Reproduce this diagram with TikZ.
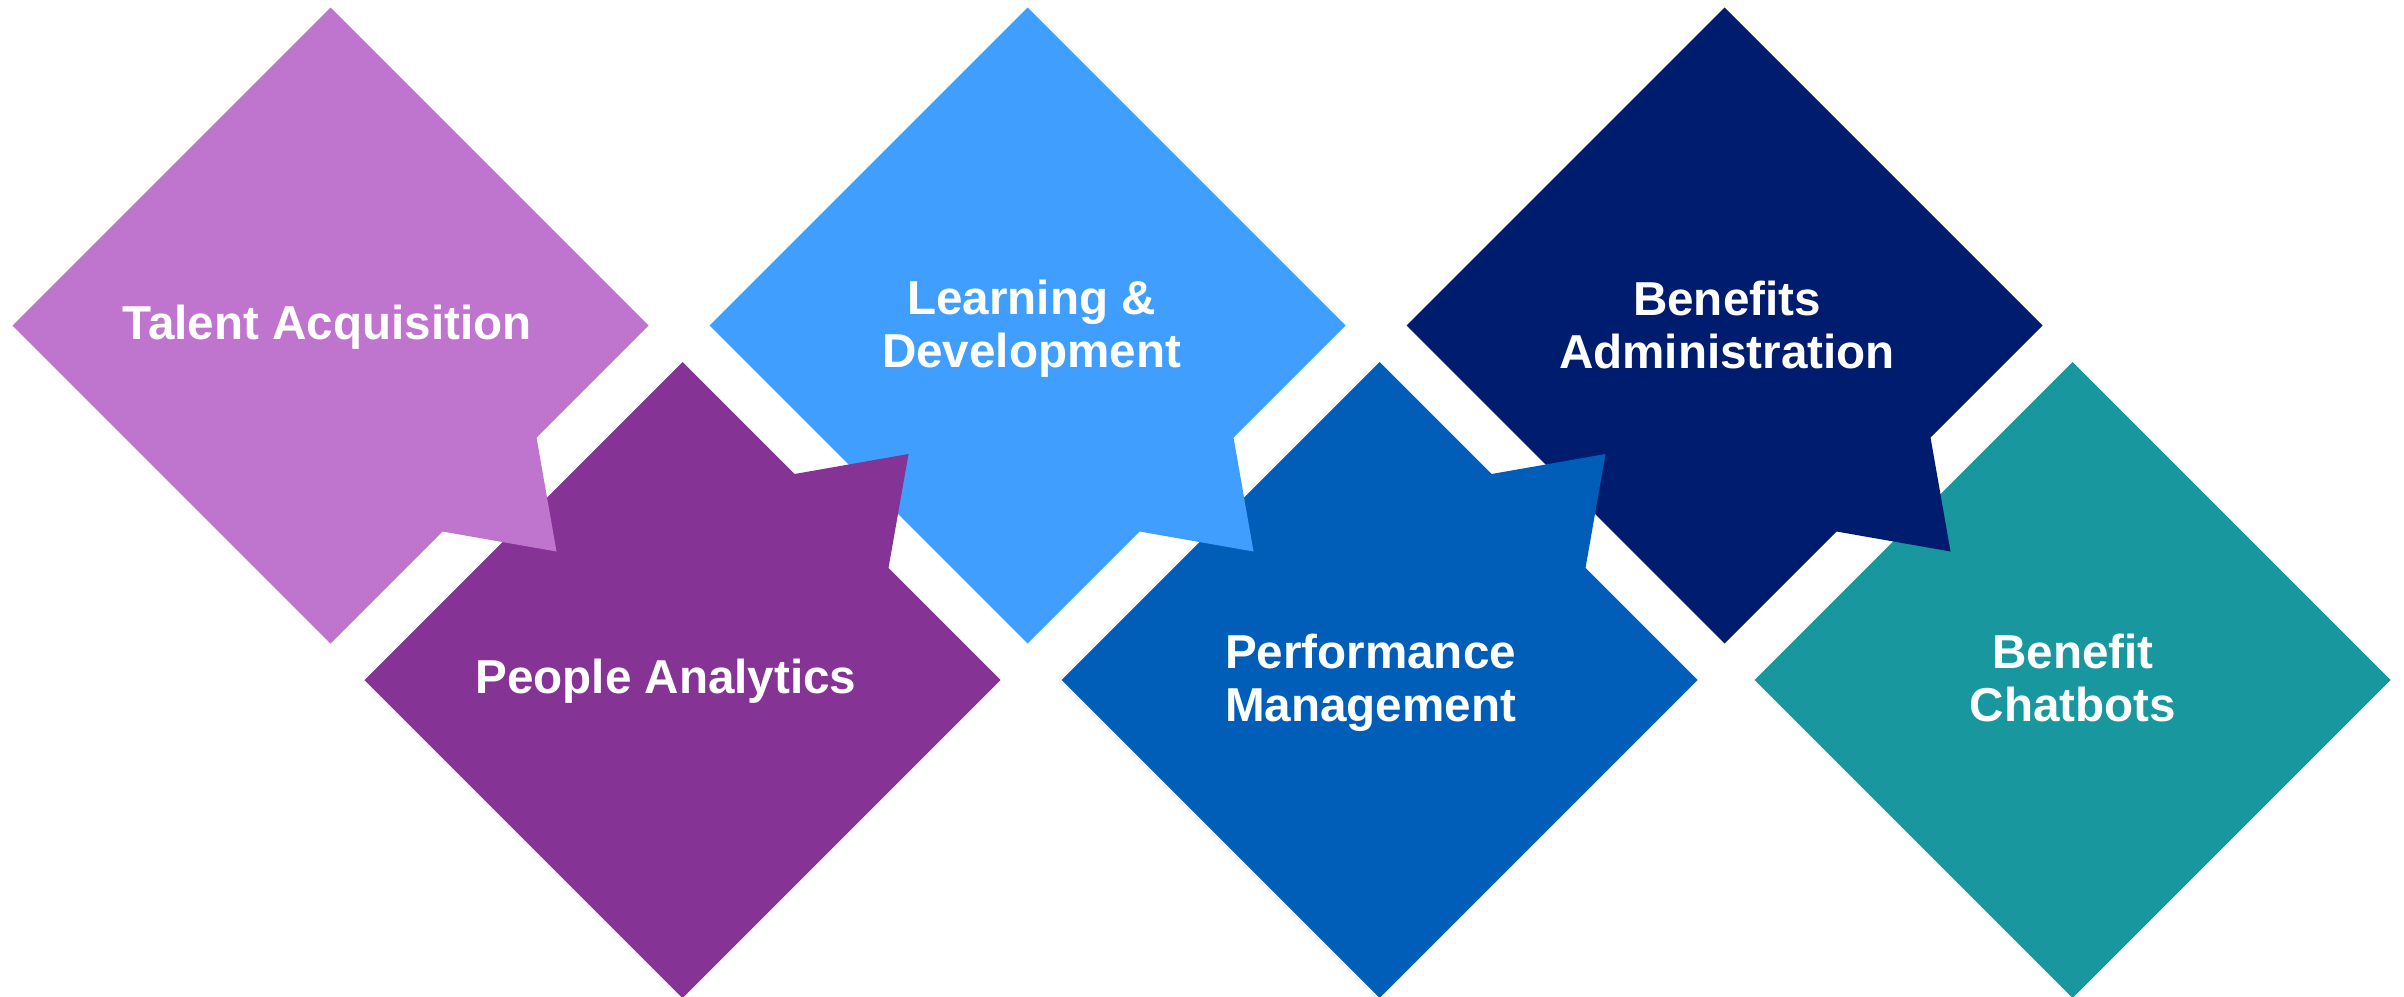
\documentclass[tikz,border=0pt]{standalone}
\usepackage{fontspec}
\setmainfont{Liberation Sans}
\definecolor{cta}{HTML}{BF75CE}
\definecolor{cpa}{HTML}{853395}
\definecolor{cld}{HTML}{409EFF}
\definecolor{cpm}{HTML}{005EB8}
\definecolor{cba}{HTML}{001C6E}
\definecolor{cbc}{HTML}{18979E}
\tikzset{
  lbl/.style={text=white, font=\bfseries\fontsize{11.9}{13.2}\selectfont, align=center, inner sep=0pt},
}
% callout diamond pointing down-right
\newcommand{\calldown}[3]{%
  \begin{scope}[shift={(#1,#2)}]
    \fill[#3] (0,-318) -- (318,0) -- (206,112) -- (226,226) -- (112,206) -- (0,318) -- (-318,0) -- cycle;
  \end{scope}}
% callout diamond pointing up-right
\newcommand{\callup}[3]{%
  \begin{scope}[shift={(#1,#2)}]
    \fill[#3] (0,-318) -- (112,-206) -- (226,-226) -- (206,-112) -- (318,0) -- (0,318) -- (-318,0) -- cycle;
  \end{scope}}
\begin{document}
\begin{tikzpicture}[x=0.25pt,y=-0.25pt]
\useasboundingbox (0,0) rectangle (2404,996);
% shapes, drawn back to front
\begin{scope}[shift={(2072.5,680)}]
  \fill[cbc] (0,-318) -- (318,0) -- (0,318) -- (-318,0) -- cycle;
\end{scope}
\calldown{1724.5}{325.5}{cba}
\callup{1379.5}{680}{cpm}
\calldown{1027.5}{325.5}{cld}
\callup{682.5}{680}{cpa}
\calldown{330.5}{325.5}{cta}
% labels
\node[lbl] (ta) at (327,327) {Talent Acquisition};
\node[lbl] (pa) at (666,681) {People Analytics};
\node[lbl] (ld) at (1031.5,329) {Learning \&\\Development};
\node[lbl] (pm) at (1370.5,683) {Performance\\Management};
\node[lbl] (ba) at (1727,325) {Benefits\\Administration};
\node[lbl] (bc) at (2073,678) {Benefit\\Chatbots};
\end{tikzpicture}
\end{document}
